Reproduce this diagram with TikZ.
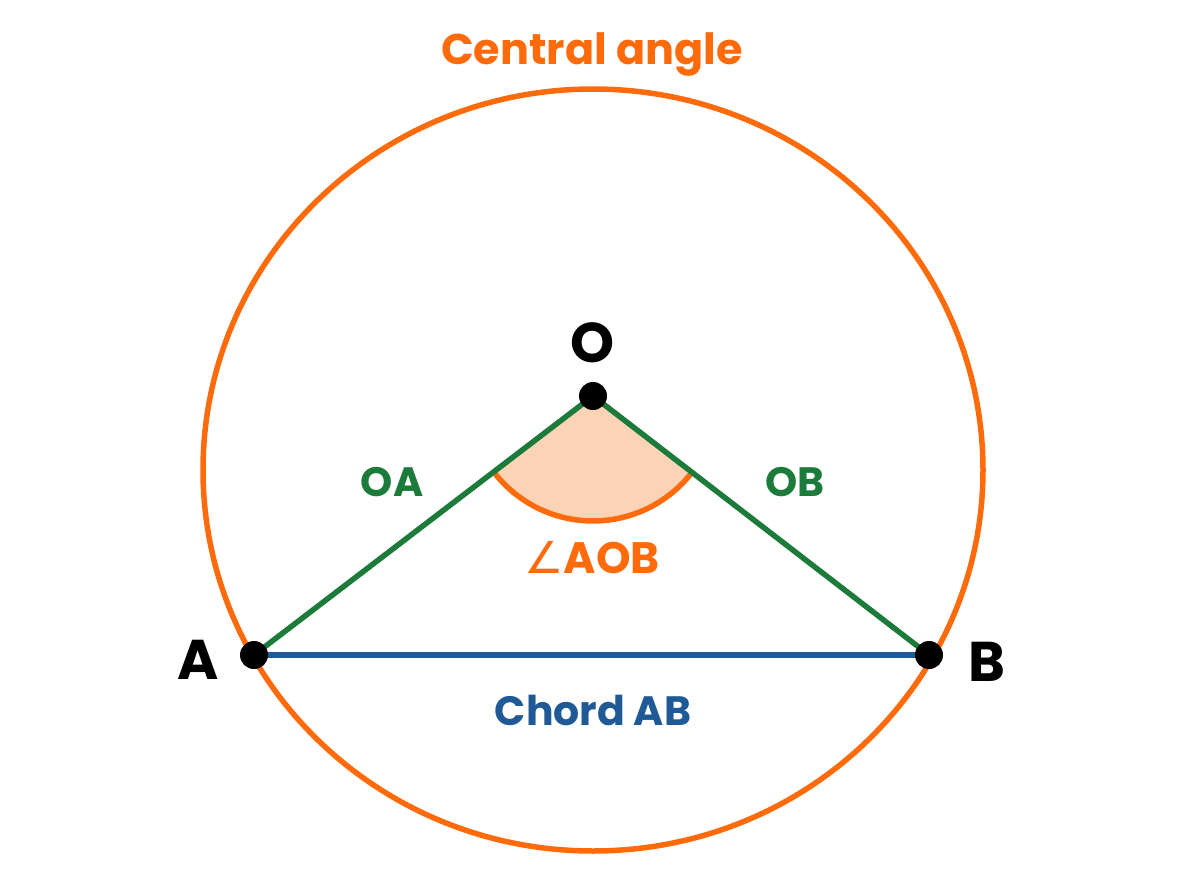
\documentclass[tikz,border=0pt]{standalone}
\usepackage{fontspec}
\setmainfont{Poppins}
\newfontfamily\symfont{DejaVu Sans}
\definecolor{orng}{HTML}{FF6B0A}
\definecolor{grn}{HTML}{1C7A3A}
\definecolor{blu}{HTML}{1F5A96}
\definecolor{peach}{HTML}{FBD3B6}
\begin{document}
\begin{tikzpicture}[x=1pt,y=-1pt,
  dot/.style={circle,fill=black,inner sep=0pt,minimum size=28pt},
  lbl/.style={font=\fontsize{41}{48}\selectfont\bfseries},
  big/.style={font=\fontsize{56}{64}\selectfont\bfseries}]
\useasboundingbox (0,0) rectangle (1200,883);
\coordinate (C) at (593,470);
\coordinate (O) at (593,396);
\coordinate (A) at (254,655);
\coordinate (B) at (929,655);
\draw[orng,line width=5.5pt] (C) ellipse [x radius=390,y radius=381];
\fill[peach] (O) -- ++(217.6:-125) arc[start angle=217.6,end angle=322.3,radius=-125] -- cycle;
\draw[orng,line width=5.5pt] (O) ++(217.6:-125) arc[start angle=217.6,end angle=322.3,radius=-125];
\draw[grn,line width=5.5pt] (A) -- (O) -- (B);
\draw[blu,line width=5.5pt] (A) -- (B);
\node[dot] (o) at (O) {};
\node[dot] (a) at (A) {};
\node[dot] (b) at (B) {};
\node[orng,font=\fontsize{43}{50}\selectfont\bfseries] (t) at (592,55) {Central angle};
\node[big] (lo) at (593,343) {O};
\node[big] (la) at (198,660) {A};
\node[big] (lb) at (987,662) {B};
\node[lbl,grn] (oa) at (392,482) {OA};
\node[lbl,grn] (ob) at (795,482) {OB};
\node[orng,font=\fontsize{44}{50}\selectfont\bfseries] (aob) at (592,558) {{\symfont\mdseries ∠}AOB};
\node[lbl,blu] (ch) at (593,710) {Chord AB};
\end{tikzpicture}
\end{document}
